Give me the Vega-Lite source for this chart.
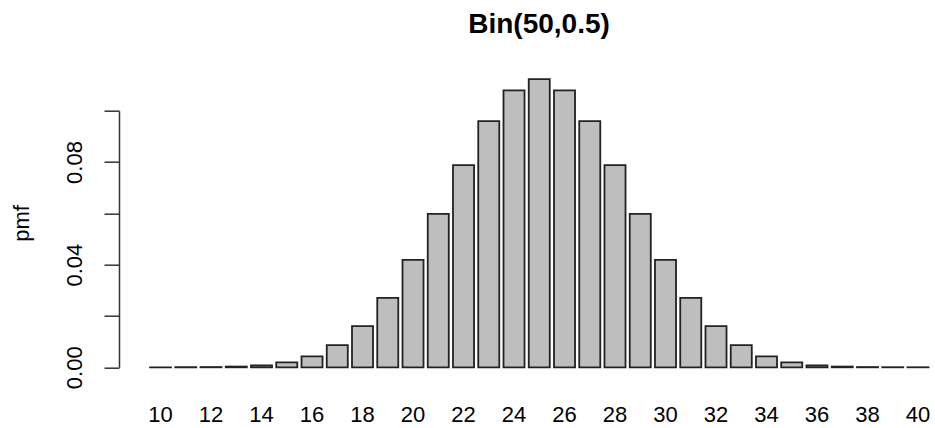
{
  "$schema": "https://vega.github.io/schema/vega-lite/v6.json",
  "autosize": {"type": "none"},
  "padding": {"left": 119, "top": 110.7, "right": 0, "bottom": 60.7},
  "width": 816,
  "height": 256.6,
  "background": "white",
  "title": {
    "text": "Bin(50,0.5)",
    "font": "Liberation Sans",
    "fontSize": 28,
    "fontWeight": "bold",
    "color": "#000",
    "frame": "group",
    "anchor": "middle",
    "baseline": "alphabetic",
    "offset": 17.7,
    "dx": 12
  },
  "data": {
    "values": [
      {"k": 10, "pmf": 0.0000069},
      {"k": 11, "pmf": 0.0000269},
      {"k": 12, "pmf": 0.0000927},
      {"k": 13, "pmf": 0.0002838},
      {"k": 14, "pmf": 0.0007781},
      {"k": 15, "pmf": 0.0019196},
      {"k": 16, "pmf": 0.0042825},
      {"k": 17, "pmf": 0.0086705},
      {"k": 18, "pmf": 0.0160101},
      {"k": 19, "pmf": 0.0270400},
      {"k": 20, "pmf": 0.0418619},
      {"k": 21, "pmf": 0.0597741},
      {"k": 22, "pmf": 0.0788256},
      {"k": 23, "pmf": 0.0959617},
      {"k": 24, "pmf": 0.1079569},
      {"k": 25, "pmf": 0.1122752},
      {"k": 26, "pmf": 0.1079569},
      {"k": 27, "pmf": 0.0959617},
      {"k": 28, "pmf": 0.0788256},
      {"k": 29, "pmf": 0.0597741},
      {"k": 30, "pmf": 0.0418619},
      {"k": 31, "pmf": 0.0270400},
      {"k": 32, "pmf": 0.0160101},
      {"k": 33, "pmf": 0.0086705},
      {"k": 34, "pmf": 0.0042825},
      {"k": 35, "pmf": 0.0019196},
      {"k": 36, "pmf": 0.0007781},
      {"k": 37, "pmf": 0.0002838},
      {"k": 38, "pmf": 0.0000927},
      {"k": 39, "pmf": 0.0000269},
      {"k": 40, "pmf": 0.0000069}
    ]
  },
  "mark": {"type": "bar", "fill": "#BEBEBE", "stroke": "#222", "strokeWidth": 1.8},
  "encoding": {
    "x": {
      "field": "k",
      "type": "ordinal",
      "sort": "ascending",
      "scale": {"paddingInner": 0.1667, "paddingOuter": 0.7426, "align": 0.827},
      "axis": {
        "title": null,
        "domain": false,
        "ticks": false,
        "tickSize": 0,
        "labelAngle": 0,
        "labelFont": "Liberation Sans",
        "labelFontSize": 22,
        "labelColor": "#000",
        "labelBaseline": "alphabetic",
        "labelPadding": 54.4,
        "labelOverlap": false,
        "labelExpr": "datum.value % 2 == 0 ? datum.label : ''"
      }
    },
    "y": {
      "field": "pmf",
      "type": "quantitative",
      "scale": {"domain": [0, 0.1], "nice": false, "zero": true},
      "axis": {
        "title": "pmf",
        "titleFont": "Liberation Sans",
        "titleFontSize": 22,
        "titleFontWeight": "normal",
        "titleColor": "#000",
        "titleAngle": -90,
        "titleAlign": "center",
        "titleBaseline": "middle",
        "titleX": -98,
        "titleY": 112.3,
        "values": [0, 0.02, 0.04, 0.06, 0.08, 0.1],
        "format": ".2f",
        "labelExpr": "round(datum.value * 100) % 4 == 0 ? datum.label : ''",
        "labelAngle": -90,
        "labelAlign": "center",
        "labelBaseline": "alphabetic",
        "labelPadding": 23,
        "labelFont": "Liberation Sans",
        "labelFontSize": 22,
        "labelColor": "#000",
        "labelOverlap": false,
        "grid": false,
        "domainColor": "#333",
        "domainWidth": 1.5,
        "tickColor": "#333",
        "tickWidth": 1.5,
        "tickSize": 15
      }
    }
  },
  "config": {"view": {"stroke": null}}
}
